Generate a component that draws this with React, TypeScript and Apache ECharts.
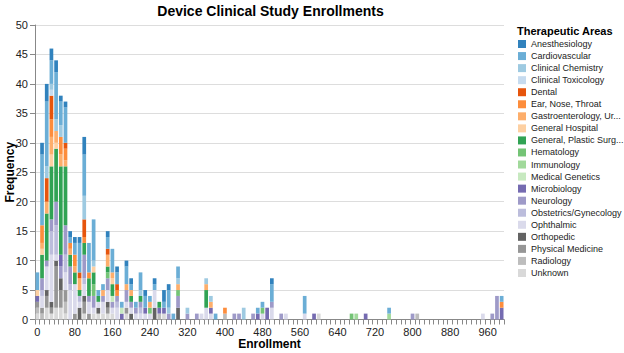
import React, { useEffect, useRef } from "react";
import * as echarts from "echarts";

// Histogram bins: enrollment 0–1000 in steps of 10
const binWidth = 10;
const binCount = 100;
const binStarts: number[] = Array.from({ length: binCount }, (_, i) => i * binWidth);

const areaNames = [
  "Anesthesiology",
  "Cardiovascular",
  "Clinical Chemistry",
  "Clinical Toxicology",
  "Dental",
  "Ear, Nose, Throat",
  "Gastroenterology, Urology",
  "General Hospital",
  "General, Plastic Surgery",
  "Hematology",
  "Immunology",
  "Medical Genetics",
  "Microbiology",
  "Neurology",
  "Obstetrics/Gynecology",
  "Ophthalmic",
  "Orthopedic",
  "Physical Medicine",
  "Radiology",
  "Unknown",
];

const areaColors = [
  "#3182bd", "#6baed6", "#9ecae1", "#c6dbef",
  "#e6550d", "#fd8d3c", "#fdae6b", "#fdd0a2",
  "#31a354", "#74c476", "#a1d99b", "#c7e9c0",
  "#756bb1", "#9e9ac8", "#bcbddc", "#dadaeb",
  "#636363", "#969696", "#bdbdbd", "#d9d9d9",
];

// [bin start, count] per therapeutic area
const anesthesiology = [[10,2],[20,3],[30,2],[40,2],[50,1],[60,1],[70,1],[80,1],[90,1],[100,3],[150,1],[170,1],[190,1],[200,1],[230,1],[250,1],[270,2],[280,1],[500,1]];
const cardiovascular = [[0,3],[10,12],[20,11],[30,4],[40,8],[50,4],[60,6],[70,1],[80,2],[90,5],[100,7],[110,5],[120,7],[130,1],[140,1],[150,2],[160,4],[170,2],[180,1],[190,3],[200,1],[210,1],[220,3],[230,2],[240,1],[250,1],[270,1],[280,3],[290,1],[300,2],[380,1],[470,1],[480,1],[500,3],[570,3],[750,1],[990,1]];
const clinicalChemistry = [[20,2],[30,1],[40,2],[50,2],[100,4],[120,1],[220,1],[280,1],[300,1],[320,1],[360,1],[370,1],[440,2]];
const clinicalToxicology = [[30,1]];
const dental = [[20,4],[30,4],[60,1],[90,1],[100,3],[150,1],[170,1]];
const earNoseThroat = [[10,3],[30,3],[50,3],[60,2],[70,1],[80,2],[100,1],[110,1],[170,1],[400,1],[990,1]];
const gastroenterology = [[10,1],[20,2],[30,3],[40,2],[50,2],[60,1],[70,1],[80,1],[90,2],[140,1],[150,2],[160,1],[190,1],[200,1],[240,1],[300,1],[360,1],[370,1]];
const generalHospital = [[0,1],[10,1],[30,2],[40,1],[120,1],[160,1]];
const generalPlasticSurgery = [[10,4],[20,8],[30,9],[40,9],[50,15],[60,10],[70,2],[80,2],[90,1],[100,2],[110,3],[120,2],[130,1],[150,1],[160,2],[200,1],[220,1],[260,1],[360,3]];
const hematology = [[120,2],[150,1],[240,1],[300,1],[480,1],[670,1]];
const immunology = [[680,1],[750,1]];
const medicalGenetics = [[160,1],[180,1]];
const microbiology = [[0,1],[50,2],[180,1],[230,1],[260,1],[270,1],[370,1],[470,1],[490,2],[590,1],[700,1],[990,2]];
const neurology = [[10,2],[20,1],[30,2],[40,4],[50,2],[60,5],[70,3],[100,4],[110,1],[120,2],[140,1],[150,2],[160,1],[170,1],[190,2],[200,1],[210,1],[220,1],[280,1],[300,2],[320,1],[340,1],[420,1],[430,1],[460,1],[500,1],[520,1],[800,1],[970,1],[980,4]];
const obstetricsGynecology = [[10,1],[30,4],[40,5],[60,3],[70,1],[90,1],[100,1],[170,1],[220,1]];
const ophthalmic = [[10,2],[20,4],[30,8],[40,1],[60,3],[70,5],[80,5],[90,1],[100,2],[110,2],[120,1],[130,1],[140,2],[150,2],[160,1],[170,2],[190,1],[200,1],[210,1],[220,1],[230,1],[240,1],[250,3],[350,1],[360,2],[370,1],[480,1],[500,2],[530,1],[570,1],[950,1]];
const orthopedic = [[20,1],[30,1],[40,1],[50,2],[90,2],[100,1],[130,1],[150,1],[200,1],[250,2],[300,2]];
const physicalMedicine = [[0,1],[10,1],[20,2],[30,1],[40,7],[50,3],[60,2],[80,1],[100,2],[110,1],[150,1],[190,1]];
const radiology = [[0,1],[10,1],[60,2],[260,1],[400,1],[810,1]];
const unknown = [[0,1],[20,2],[30,1],[40,2],[50,2],[60,1],[100,1],[120,1],[130,1],[140,1],[150,1],[160,1],[190,1],[270,1],[600,1]];

const areaCounts = [
  anesthesiology, cardiovascular, clinicalChemistry, clinicalToxicology,
  dental, earNoseThroat, gastroenterology, generalHospital,
  generalPlasticSurgery, hematology, immunology, medicalGenetics,
  microbiology, neurology, obstetricsGynecology, ophthalmic,
  orthopedic, physicalMedicine, radiology, unknown,
];

const yTicks = { min: 0, max: 50, interval: 5 };
const FONT = "'Liberation Sans', Arial, sans-serif";

function toBins(pairs: number[][]): number[] {
  const arr = binStarts.map(() => 0);
  pairs.forEach(([start, count]) => {
    arr[Math.round(start / binWidth)] = count;
  });
  return arr;
}

export default function App() {
  const ref = useRef<HTMLDivElement>(null);

  useEffect(() => {
    if (!ref.current) return;
    const chart = echarts.init(ref.current, null, { renderer: "svg" });

    // Stack order: last area at the bottom, first area on top
    const series = areaNames
      .map((name, i) => ({
        name,
        type: "bar" as const,
        stack: "total",
        barCategoryGap: "21%",
        data: toBins(areaCounts[i]),
        itemStyle: { color: areaColors[i] },
        emphasis: { disabled: true },
      }))
      .reverse();

    chart.setOption({
      animation: false,
      grid: {
        left: 35,
        top: 25,
        width: 469,
        height: 294.5,
        containLabel: false,
        outerBoundsMode: "none",
      },
      graphic: [
        {
          type: "text",
          x: 270.5,
          y: 11,
          style: {
            text: "Device Clinical Study Enrollments",
            font: `bold 14px ${FONT}`,
            fill: "#000",
            textAlign: "center",
            textVerticalAlign: "middle",
          },
        },
        {
          type: "text",
          x: 517,
          y: 31,
          style: {
            text: "Therapeutic Areas",
            font: `bold 11px ${FONT}`,
            fill: "#000",
            textAlign: "left",
            textVerticalAlign: "middle",
          },
        },
      ],
      legend: {
        data: areaNames,
        orient: "vertical",
        left: 518,
        top: 38,
        padding: 0,
        itemWidth: 8,
        itemHeight: 8,
        itemGap: 0,
        icon: "rect",
        selectedMode: false,
        textStyle: {
          fontFamily: FONT,
          fontSize: 9,
          lineHeight: 12.05,
          color: "#222",
          width: 96,
          overflow: "truncate",
          ellipsis: "...",
        },
      },
      xAxis: {
        type: "category",
        data: binStarts.map(String),
        name: "Enrollment",
        nameLocation: "middle",
        nameGap: 18,
        nameMoveOverlap: false,
        nameTextStyle: { fontFamily: FONT, fontSize: 12, fontWeight: "bold", color: "#000" },
        axisLine: { show: true, lineStyle: { color: "#888", width: 1 } },
        axisTick: { show: true, interval: 0, length: 5, lineStyle: { color: "#888" } },
        axisLabel: { interval: 7, fontFamily: FONT, fontSize: 11, color: "#222", margin: 7 },
        splitLine: { show: false },
      },
      yAxis: {
        type: "value",
        min: yTicks.min,
        max: yTicks.max,
        interval: yTicks.interval,
        name: "Frequency",
        nameLocation: "middle",
        nameRotate: 90,
        nameGap: 19,
        nameMoveOverlap: false,
        nameTextStyle: { fontFamily: FONT, fontSize: 12, fontWeight: "bold", color: "#000" },
        axisLine: { show: true, lineStyle: { color: "#888", width: 1 } },
        axisTick: { show: true, length: 5, lineStyle: { color: "#888" } },
        axisLabel: { fontFamily: FONT, fontSize: 11, color: "#222", margin: 7 },
        splitLine: { show: true, lineStyle: { color: "#ddd", width: 1 } },
      },
      series,
    });

    return () => chart.dispose();
  }, []);

  return (
    <div
      ref={ref}
      style={{ position: "fixed", left: 0, top: 0, width: 624, height: 353, background: "#fff" }}
    />
  );
}
